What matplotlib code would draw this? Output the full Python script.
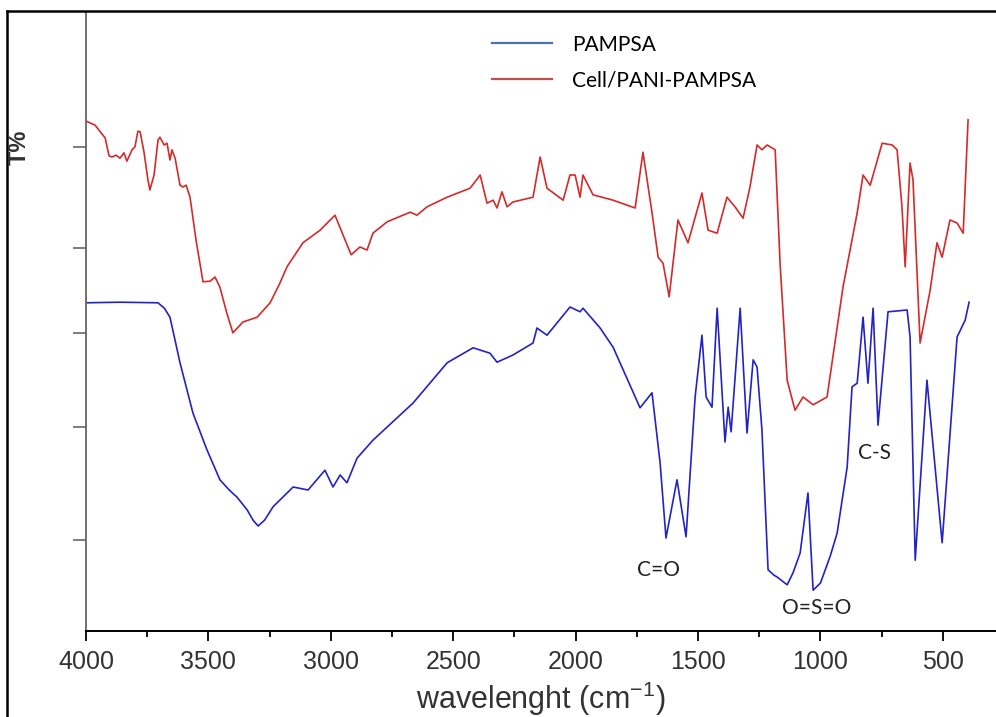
import matplotlib
matplotlib.use('Agg')
import matplotlib.pyplot as plt
from matplotlib.lines import Line2D
from matplotlib.ticker import MultipleLocator, NullFormatter

plt.rcParams['font.family'] = ['Liberation Sans', 'DejaVu Sans']
plt.rcParams['mathtext.fontset'] = 'custom'
plt.rcParams['mathtext.rm'] = 'Liberation Sans'
plt.rcParams['mathtext.it'] = 'Liberation Sans'

# Cell/PANI-PAMPSA spectrum (wavenumber, T)
red_w = [4000, 3963, 3922, 3906, 3894, 3877, 3861, 3845, 3833, 3812, 3800, 3788, 3779,
         3763, 3747, 3739, 3722, 3706, 3698, 3681, 3669, 3657, 3649, 3636, 3616, 3604,
         3591, 3575, 3550, 3522, 3493, 3473, 3453, 3425, 3400, 3359, 3301, 3248, 3210,
         3179, 3114, 3044, 2983, 2917, 2881, 2852, 2828, 2770, 2676, 2648, 2607, 2525,
         2431, 2390, 2362, 2337, 2321, 2301, 2280, 2256, 2174, 2145, 2117, 2051, 2023,
         2002, 1982, 1970, 1929, 1847, 1757, 1725, 1688, 1663, 1643, 1618, 1582, 1541,
         1484, 1459, 1422, 1382, 1349, 1316, 1288, 1259, 1239, 1218, 1185, 1165, 1136,
         1104, 1071, 1030, 973, 908, 850, 826, 797, 748, 707, 687, 667, 654, 634, 622,
         593, 552, 524, 503, 471, 442, 417, 397]
red_t = [85.0, 84.3, 82.2, 79.2, 79.0, 79.3, 78.8, 79.7, 78.3, 80.2, 80.7, 83.3, 83.2,
         79.8, 75.2, 73.5, 76.0, 81.8, 82.3, 81.0, 81.3, 78.5, 80.2, 78.8, 74.3, 74.0,
         74.3, 72.3, 65.0, 58.2, 58.3, 59.0, 57.3, 53.0, 49.7, 51.5, 52.3, 54.7, 57.8,
         60.7, 64.7, 66.8, 69.3, 62.7, 64.0, 63.5, 66.3, 68.2, 69.8, 69.3, 70.7, 72.3,
         73.8, 76.0, 71.3, 71.8, 70.5, 73.2, 70.7, 71.5, 72.3, 79.0, 73.8, 71.8, 76.0,
         76.0, 72.3, 76.0, 72.7, 71.8, 70.5, 79.8, 69.7, 62.3, 61.3, 55.7, 68.5, 64.7,
         73.0, 66.8, 66.3, 72.3, 70.7, 68.8, 74.0, 81.0, 80.2, 81.0, 80.2, 61.3, 41.8,
         36.8, 39.0, 37.7, 39.0, 57.3, 69.7, 76.0, 74.3, 81.3, 81.0, 80.2, 70.7, 60.7,
         78.0, 75.2, 48.0, 56.8, 64.7, 62.3, 68.5, 68.0, 66.3, 85.2]

# PAMPSA spectrum (wavenumber, T)
blue_w = [4000, 3861, 3706, 3680, 3657, 3616, 3563, 3506, 3453, 3415, 3383, 3342, 3318,
          3297, 3270, 3236, 3154, 3093, 3024, 2991, 2962, 2934, 2893, 2828, 2664, 2525,
          2419, 2350, 2321, 2256, 2174, 2158, 2117, 2023, 1982, 1970, 1900, 1847, 1737,
          1688, 1655, 1631, 1586, 1549, 1512, 1484, 1467, 1443, 1422, 1390, 1377, 1365,
          1328, 1300, 1275, 1259, 1239, 1214, 1190, 1177, 1136, 1112, 1083, 1051, 1030,
          1000, 960, 932, 891, 871, 850, 826, 806, 785, 765, 724, 646, 634, 613, 565, 503,
          442, 409, 393]
blue_t = [54.7, 54.8, 54.7, 53.8, 52.3, 44.7, 36.3, 30.2, 25.2, 23.5, 22.3, 20.2, 18.5,
          17.5, 18.5, 20.7, 24.0, 23.5, 26.8, 24.0, 26.0, 24.7, 28.8, 31.8, 38.0, 44.7,
          47.2, 46.3, 44.8, 46.0, 48.0, 50.5, 49.3, 54.0, 53.2, 53.8, 50.5, 47.3, 37.2,
          39.7, 28.0, 15.5, 25.2, 15.7, 39.0, 49.3, 39.0, 37.3, 53.8, 31.5, 37.3, 33.2,
          53.8, 33.0, 45.2, 44.0, 33.5, 10.2, 9.3, 9.0, 7.7, 9.7, 13.0, 23.0, 6.8, 8.0,
          12.5, 16.3, 27.3, 40.7, 41.3, 52.3, 41.3, 53.8, 34.3, 53.2, 53.5, 49.0, 11.8,
          41.8, 14.7, 49.0, 51.8, 54.8]

series_names = ['PAMPSA', 'Cell/PANI-PAMPSA']
peak_labels = ['C=O', 'O=S=O', 'C-S']
peak_pos = [(1660, 10.2), (1017, 3.8), (780, 29.7)]
y_ticks = [80.7, 63.8, 49.7, 34.0, 15.2]

fig = plt.figure(figsize=(9.96, 7.17), dpi=100)
ax = fig.add_axes([86 / 996, 86 / 717, 910 / 996, 618 / 717])

ax.plot(red_w, red_t, color='#d42a2a', lw=1.2)
ax.plot(blue_w, blue_t, color='#2323c4', lw=1.2)

ax.set_xlim(4000, 283)
ax.set_ylim(0, 103)
ax.xaxis.set_major_locator(MultipleLocator(500))
ax.xaxis.set_minor_locator(MultipleLocator(250))
ax.set_yticks(y_ticks)
ax.yaxis.set_major_formatter(NullFormatter())
ax.tick_params(axis='x', which='major', direction='out', length=7.5, width=1.3,
               labelsize=18, pad=6, labelcolor='#333333')
ax.tick_params(axis='x', which='minor', direction='out', length=4.5, width=1.3)
ax.tick_params(axis='y', direction='out', length=9.5, width=1.2, color='#666666')
for s in ['top', 'right']:
    ax.spines[s].set_visible(False)
ax.spines['left'].set_color('#666666')
ax.spines['left'].set_linewidth(1.3)
ax.spines['bottom'].set_linewidth(1.4)

for txt, (w, t) in zip(peak_labels, peak_pos):
    ax.text(w, t, txt, fontsize=15, family=['Lato', 'DejaVu Sans'], color='#222222',
            ha='center', va='center')

handles = [Line2D([], [], color='#4f6fb5', lw=1.6), Line2D([], [], color='#c0504d', lw=1.6)]
fig.legend(handles, series_names, loc='upper left', bbox_to_anchor=(473 / 996, 1 - 16 / 717),
           frameon=False, handlelength=2.9, handletextpad=0.95, labelspacing=0.75,
           prop={'family': ['Lato', 'DejaVu Sans'], 'size': 15})

fig.text(19 / 996, 1 - 147 / 717, 'T%', rotation=90, fontsize=17, fontweight='bold',
         color='#333333', ha='center', va='center')
fig.text(541 / 996, 1 - 709 / 717, 'wavelenght (cm$^{\\mathregular{-1}}$)', fontsize=22,
         color='#333333', ha='center', va='baseline')

# frame around the picture
fig.add_artist(Line2D([7 / 996, 1], [1 - 11 / 717] * 2, color='black', lw=1.8))
fig.add_artist(Line2D([7 / 996] * 2, [0, 1 - 11 / 717], color='black', lw=1.8))

fig.savefig('out.png', dpi=100)
